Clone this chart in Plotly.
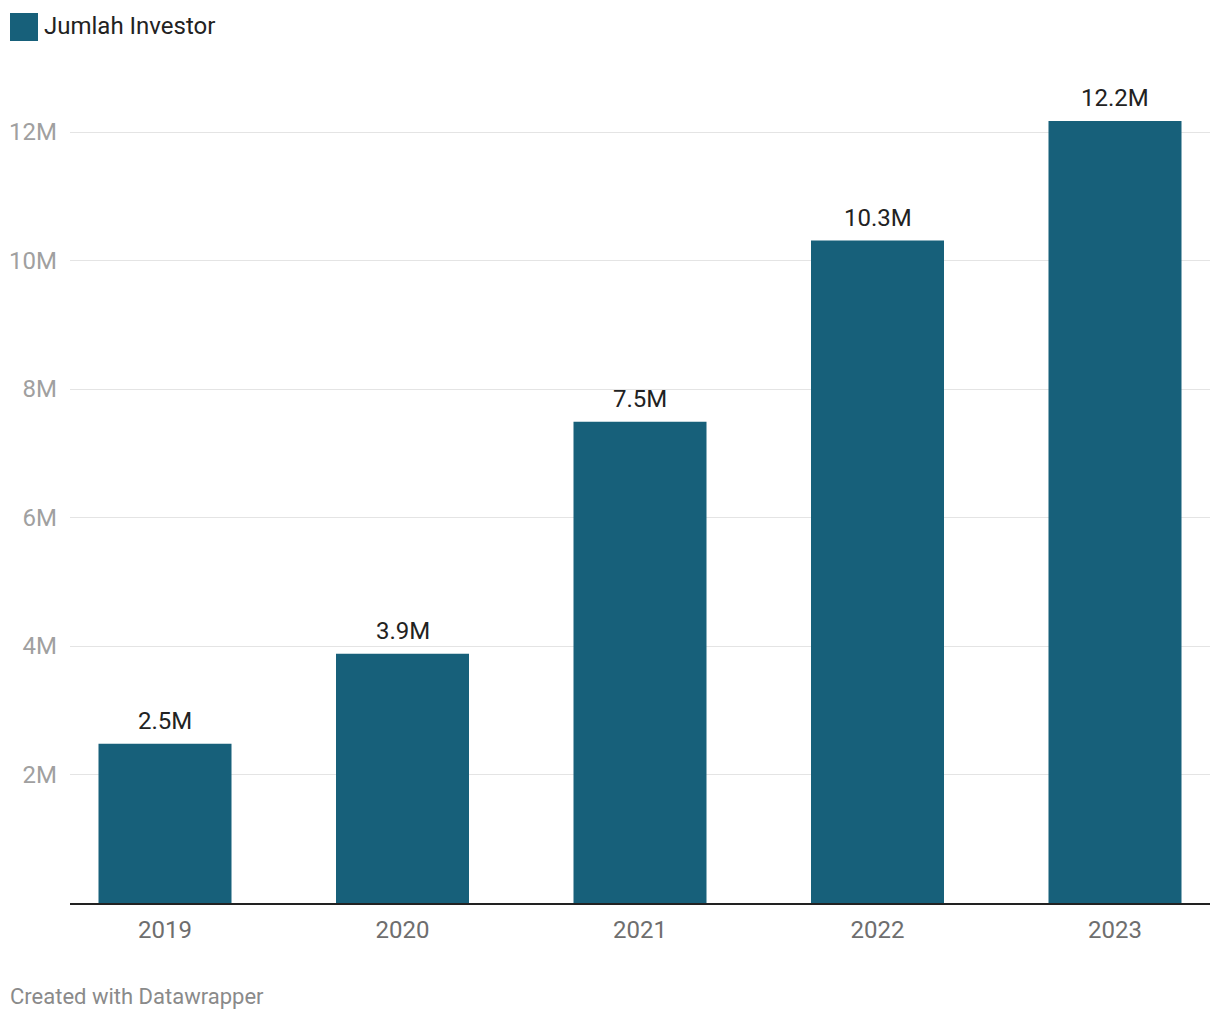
import plotly.graph_objects as go

years = ["2019", "2020", "2021", "2022", "2023"]
investors = [2.48e6, 3.88e6, 7.49e6, 10.31e6, 12.17e6]
value_labels = ["2.5M", "3.9M", "7.5M", "10.3M", "12.2M"]
series_name = "Jumlah Investor"
y_tickvals = [2e6, 4e6, 6e6, 8e6, 10e6, 12e6]
y_ticktext = ["2M", "4M", "6M", "8M", "10M", "12M"]

BAR = "#17607a"
FONT = "Roboto, Liberation Sans, sans-serif"

fig = go.Figure()
fig.add_trace(go.Bar(
    x=years, y=investors, name=series_name, marker_color=BAR,
    marker_line_width=0, width=0.56, showlegend=False, hoverinfo="skip",
))

annotations = []
for i, (v, lab) in enumerate(zip(investors, value_labels)):
    annotations.append(dict(
        x=i, y=v, xref="x", yref="y", text=lab, showarrow=False,
        yanchor="bottom", yshift=7, font=dict(size=24, color="#222222", family=FONT),
    ))

# legend (manual)
annotations.append(dict(
    x=-0.0246, y=1.0656, xref="paper", yref="paper", text=series_name,
    showarrow=False, xanchor="left", yanchor="middle",
    font=dict(size=24, color="#222222", family=FONT),
))
# footer
annotations.append(dict(
    x=-0.0544, y=-0.1142, xref="paper", yref="paper", text="Created with Datawrapper",
    showarrow=False, xanchor="left", yanchor="middle",
    font=dict(size=22, color="#8a8a8a", family=FONT),
))

shapes = [dict(
    type="rect", xref="paper", yref="paper",
    x0=-0.05263, x1=-0.02807, y0=1.0474, y1=1.0814,
    fillcolor=BAR, line_width=0,
)]

fig.update_layout(
    width=1220, height=1020,
    margin=dict(l=62, r=18, t=72, b=125, autoexpand=False),
    plot_bgcolor="white", paper_bgcolor="white",
    font=dict(family=FONT),
    annotations=annotations, shapes=shapes,
    xaxis=dict(
        type="category", range=[-0.4, 4.4], automargin=False,
        showline=True, linecolor="#222222", linewidth=2,
        showgrid=False, ticks="", ticklabelstandoff=4,
        tickfont=dict(size=24, color="#6e6e6e", family=FONT),
        fixedrange=True,
    ),
    yaxis=dict(
        range=[0, 12.81e6], tickvals=y_tickvals, ticktext=y_ticktext,
        automargin=False,
        showgrid=True, gridcolor="#e4e4e4", gridwidth=1,
        zeroline=False, showline=False, ticks="",
        ticklabelstandoff=12,
        tickfont=dict(size=24, color="#a0a0a0", family=FONT),
        fixedrange=True,
    ),
)

fig.write_html("out.html")
